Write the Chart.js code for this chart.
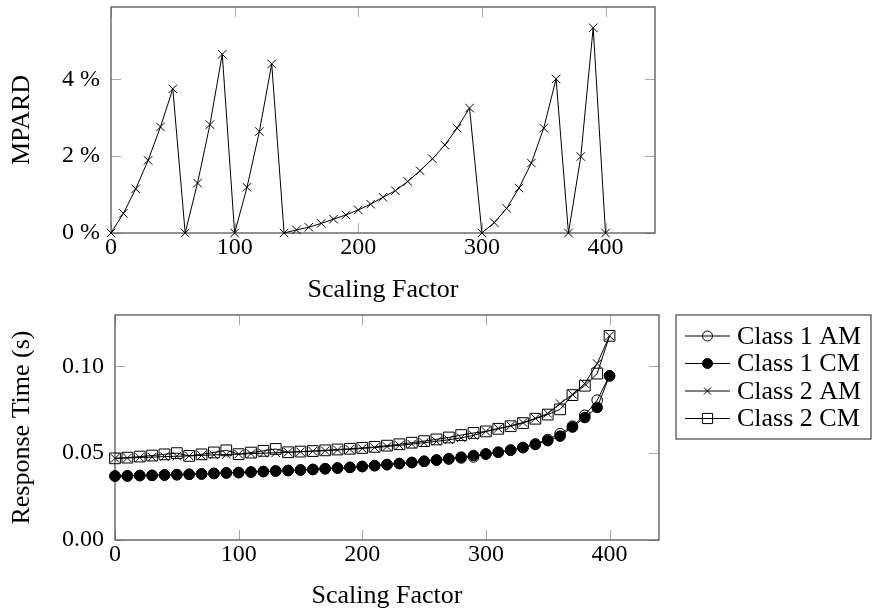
<!DOCTYPE html>
<html>
<head>
<meta charset="utf-8">
<script src="https://cdn.jsdelivr.net/npm/chart.js@4.4.1/dist/chart.umd.min.js"></script>
<style>
  body { margin: 0; background: #fff; }
  #wrap { position: relative; width: 872px; height: 612px; }
  canvas { position: absolute; left: 0; }
  #topChart { top: 0; }
  #bottomChart { top: 305px; }
</style>
</head>
<body>
<div id="wrap">
  <canvas id="topChart" width="872" height="310"></canvas>
  <canvas id="bottomChart" width="872" height="307"></canvas>
</div>
<script>
// scaling factor (x) shared by both plots
const scalingFactor = [0, 10, 20, 30, 40, 50, 60, 70, 80, 90, 100, 110, 120, 130, 140, 150, 160, 170, 180, 190, 200,
  210, 220, 230, 240, 250, 260, 270, 280, 290, 300, 310, 320, 330, 340, 350, 360, 370, 380, 390, 400];

// top plot: MPARD in %
const mpard = [0, 0.51, 1.15, 1.89, 2.76, 3.75, 0, 1.30, 2.82, 4.65, 0, 1.19, 2.64, 4.40, 0, 0.08, 0.15, 0.25, 0.36, 0.47, 0.60,
  0.75, 0.93, 1.10, 1.34, 1.62, 1.93, 2.29, 2.73, 3.25, 0, 0.27, 0.64, 1.17, 1.82, 2.73, 4.01, 0, 1.99, 5.34, 0];

// bottom plot: response time (s)
const class1AM = [0.0368, 0.0369, 0.0371, 0.0372, 0.0374, 0.0376, 0.0378, 0.0380, 0.0383, 0.0386, 0.0388, 0.0391, 0.0394, 0.0397,
  0.0400, 0.0403, 0.0406, 0.0410, 0.0414, 0.0418, 0.0423, 0.0428, 0.0434, 0.0440, 0.0446, 0.0453, 0.0460, 0.0466, 0.0472, 0.0478,
  0.0495, 0.0505, 0.0517, 0.0532, 0.0553, 0.0578, 0.0612, 0.0655, 0.0718, 0.0805, 0.0945];
const class1CM = [0.0368, 0.0369, 0.0371, 0.0372, 0.0374, 0.0376, 0.0378, 0.0380, 0.0383, 0.0386, 0.0388, 0.0391, 0.0394, 0.0397,
  0.0400, 0.0403, 0.0406, 0.0410, 0.0414, 0.0418, 0.0423, 0.0428, 0.0434, 0.0440, 0.0446, 0.0453, 0.0460, 0.0468, 0.0477, 0.0486,
  0.0495, 0.0505, 0.0517, 0.0532, 0.0550, 0.0572, 0.0598, 0.0650, 0.0705, 0.0763, 0.0945];
const class2AM = [0.0470, 0.0472, 0.0475, 0.0477, 0.0480, 0.0482, 0.0484, 0.0487, 0.0490, 0.0492, 0.0494, 0.0497, 0.0500, 0.0502,
  0.0505, 0.0508, 0.0511, 0.0514, 0.0518, 0.0522, 0.0527, 0.0532, 0.0538, 0.0545, 0.0552, 0.0560, 0.0568, 0.0577, 0.0588, 0.0602,
  0.0625, 0.0642, 0.0658, 0.0676, 0.0700, 0.0728, 0.0785, 0.0838, 0.0900, 0.1015, 0.1175];
const class2CM = [0.0470, 0.0474, 0.0480, 0.0486, 0.0493, 0.0500, 0.0484, 0.0493, 0.0504, 0.0516, 0.0494, 0.0503, 0.0513, 0.0524,
  0.0505, 0.0509, 0.0512, 0.0516, 0.0521, 0.0525, 0.0530, 0.0536, 0.0543, 0.0551, 0.0560, 0.0569, 0.0579, 0.0590, 0.0604, 0.0616,
  0.0625, 0.0640, 0.0655, 0.0673, 0.0698, 0.0722, 0.0752, 0.0834, 0.0888, 0.0958, 0.1175];

const seriesNames = ['Class 1 AM', 'Class 1 CM', 'Class 2 AM', 'Class 2 CM'];

const xTicks = [0, 100, 200, 300, 400];
const yTicksTop = [0, 2, 4];
const yTicksBottom = [0, 0.05, 0.10];

const serif = "'Liberation Serif', 'Times New Roman', serif";
Chart.defaults.font.family = serif;
Chart.defaults.font.size = 24;
Chart.defaults.color = '#000';

const pts = arr => arr.map((v, i) => ({ x: scalingFactor[i], y: v }));

// pgfplots style box with inward ticks on all four sides
const frame = {
  id: 'frame',
  beforeDatasetsDraw(chart) {
    const { ctx, chartArea: a, scales } = chart;
    ctx.save();
    ctx.strokeStyle = '#aaa';
    ctx.lineWidth = 1;
    ctx.beginPath();
    scales.x.ticks.forEach(t => {
      const px = Math.round(scales.x.getPixelForValue(t.value)) + 0.5;
      ctx.moveTo(px, a.bottom); ctx.lineTo(px, a.bottom - 10);
      ctx.moveTo(px, a.top); ctx.lineTo(px, a.top + 10);
    });
    scales.y.ticks.forEach(t => {
      const py = Math.round(scales.y.getPixelForValue(t.value)) + 0.5;
      ctx.moveTo(a.left, py); ctx.lineTo(a.left + 10, py);
      ctx.moveTo(a.right, py); ctx.lineTo(a.right - 10, py);
    });
    ctx.stroke();
    ctx.strokeStyle = '#555';
    ctx.lineWidth = 1.3;
    ctx.strokeRect(a.left, a.top, a.right - a.left, a.bottom - a.top);
    ctx.restore();
  }
};

// legend box: short line with the marker in its middle
const sideLegend = {
  id: 'sideLegend',
  afterDraw(chart) {
    const { ctx, chartArea: a } = chart;
    const left = a.right + 17, top = a.top, w = 195, rowH = 27.5;
    ctx.save();
    ctx.strokeStyle = '#444';
    ctx.lineWidth = 1.2;
    ctx.strokeRect(left, top, w, rowH * 4 + 14);
    chart.data.datasets.forEach((ds, i) => {
      const y = top + 21 + i * rowH;
      ctx.strokeStyle = '#000';
      ctx.lineWidth = 1;
      ctx.beginPath();
      ctx.moveTo(left + 9, y); ctx.lineTo(left + 54, y);
      ctx.stroke();
      ctx.fillStyle = ds.pointBackgroundColor;
      ctx.strokeStyle = '#000';
      Chart.helpers.drawPoint(ctx, { pointStyle: ds.pointStyle, radius: ds.legendRadius, borderWidth: 1, rotation: 0 }, left + 31.5, y);
      ctx.fillStyle = '#000';
      ctx.font = '26px ' + serif;
      ctx.textBaseline = 'middle';
      ctx.fillText(ds.label, left + 61, y + 1);
    });
    ctx.restore();
  }
};

function axisX(height, titlePad) {
  return {
    type: 'linear', min: 0, max: 440,
    afterBuildTicks: s => { s.ticks = xTicks.map(v => ({ value: v })); },
    afterFit: s => { s.height = height; s.paddingLeft = 0; s.paddingRight = 0; },
    grid: { display: false, drawTicks: false },
    border: { display: false },
    ticks: { padding: 0 },
    title: { display: true, text: 'Scaling Factor', font: { size: 26 }, padding: { top: 0, bottom: titlePad } }
  };
}

function axisY(width, max, ticks, fmt, title) {
  return {
    min: 0, max: max,
    afterBuildTicks: s => { s.ticks = ticks.map(v => ({ value: v })); },
    afterFit: s => { s.width = width; s.paddingTop = 0; s.paddingBottom = 0; },
    grid: { display: false, drawTicks: false },
    border: { display: false },
    ticks: { padding: 11, callback: fmt },
    title: { display: true, text: title, font: { size: 26 }, padding: { top: 7, bottom: 0 } }
  };
}

new Chart(document.getElementById('topChart'), {
  type: 'line',
  data: {
    datasets: [{
      label: 'MPARD',
      data: pts(mpard),
      borderColor: '#000', borderWidth: 1,
      pointStyle: 'crossRot', pointRadius: 6, pointBorderWidth: 1,
      pointBorderColor: '#000', pointBackgroundColor: '#000',
      tension: 0, clip: false
    }]
  },
  options: {
    responsive: false, animation: false, devicePixelRatio: 1,
    layout: { padding: { top: 7, right: 217, left: 0, bottom: 0 } },
    plugins: { legend: { display: false }, tooltip: { enabled: false } },
    scales: {
      x: axisX(77, 4),
      y: axisY(111, 5.88, yTicksTop, v => v + ' %', 'MPARD')
    }
  },
  plugins: [frame]
});

const styles = [
  { pointStyle: 'circle', fill: 'rgba(0,0,0,0)', r: 5.3, lr: 5, order: 4 },
  { pointStyle: 'circle', fill: '#000', r: 5.3, lr: 5, order: 3 },
  { pointStyle: 'crossRot', fill: '#000', r: 6, lr: 5, order: 2 },
  { pointStyle: 'rect', fill: 'rgba(0,0,0,0)', r: 7.6, lr: 7.2, order: 1 }
];
const bottomSeries = [class1AM, class1CM, class2AM, class2CM];

new Chart(document.getElementById('bottomChart'), {
  type: 'line',
  data: {
    datasets: bottomSeries.map((s, i) => ({
      label: seriesNames[i],
      data: pts(s),
      order: styles[i].order,
      legendRadius: styles[i].lr,
      borderColor: '#000', borderWidth: 1,
      pointStyle: styles[i].pointStyle, pointRadius: styles[i].r, pointBorderWidth: 1,
      pointBorderColor: '#000', pointBackgroundColor: styles[i].fill,
      tension: 0, clip: false
    }))
  },
  options: {
    responsive: false, animation: false, devicePixelRatio: 1,
    layout: { padding: { top: 10, right: 213, left: 0, bottom: 0 } },
    plugins: { legend: { display: false }, tooltip: { enabled: false } },
    scales: {
      x: axisX(72, 0),
      y: axisY(115, 0.1295, yTicksBottom, v => v.toFixed(2), 'Response Time (s)')
    }
  },
  plugins: [frame, sideLegend]
});
</script>
</body>
</html>
